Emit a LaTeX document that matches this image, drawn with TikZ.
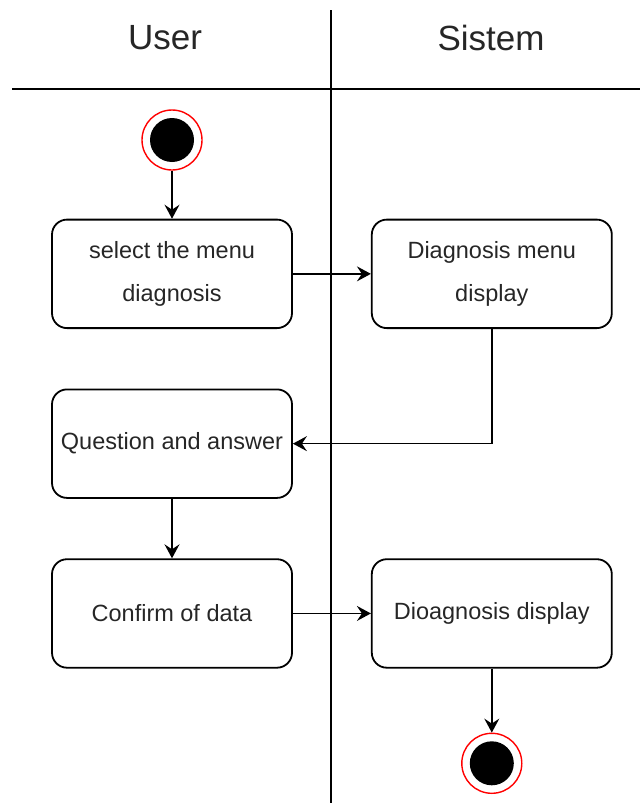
\documentclass[tikz,border=0pt]{standalone}
\usepackage{fontspec}
\setmainfont{Liberation Sans}
\usetikzlibrary{positioning,arrows.meta}

\begin{document}
\begin{tikzpicture}[x=0.5pt, y=-0.5pt, node distance={29.75pt and 39pt}, thick,
    act/.style = {draw, line width=0.9pt, rounded corners=7.5pt, minimum width=120pt, minimum height=54.25pt, align=center, text=black!85, font=\fontsize{11.75}{21.5}\selectfont},
    endpoint/.style = {circle, draw=red, line width=0.7pt, fill=white, minimum size=30pt, inner sep=0pt, path picture={\fill[black] (path picture bounding box.center) circle (11pt);}},
    lane/.style = {text=black!85, font=\fontsize{17.5}{21}\selectfont},
    >={Stealth[length=7pt, width=7.5pt, inset=2.5pt]}]
    \useasboundingbox (0,0) rectangle (640,803);
    \draw[line width=1pt] (331,10) -- (331,803);
    \draw[line width=1pt] (12,89) -- (640,89);
    \node[lane] (user) at (165,38) {User};
    \node[lane] (sys) at (491,38) {Sistem};
    \node[endpoint] (start) at (172,140) {};
    \node[act] (menu) [below=24pt of start] {select the menu\\diagnosis};
    \node[act] (show) [right=of menu] {Diagnosis menu\\display};
    \node[act] (qa) [below=of menu] {Question and answer};
    \node[act] (confirm) [below=of qa] {Confirm of data};
    \node[act] (result) [right=of confirm] {Dioagnosis display};
    \node[endpoint] (stop) [below=32pt of result] {};
    \draw[->] (start) -- (menu);
    \draw[->] (menu) -- (show);
    \draw[->] (show.south) |- (qa.east);
    \draw[->] (qa) -- (confirm);
    \draw[->] (confirm) -- (result);
    \draw[->] (result) -- (stop);
\end{tikzpicture}
\end{document}
